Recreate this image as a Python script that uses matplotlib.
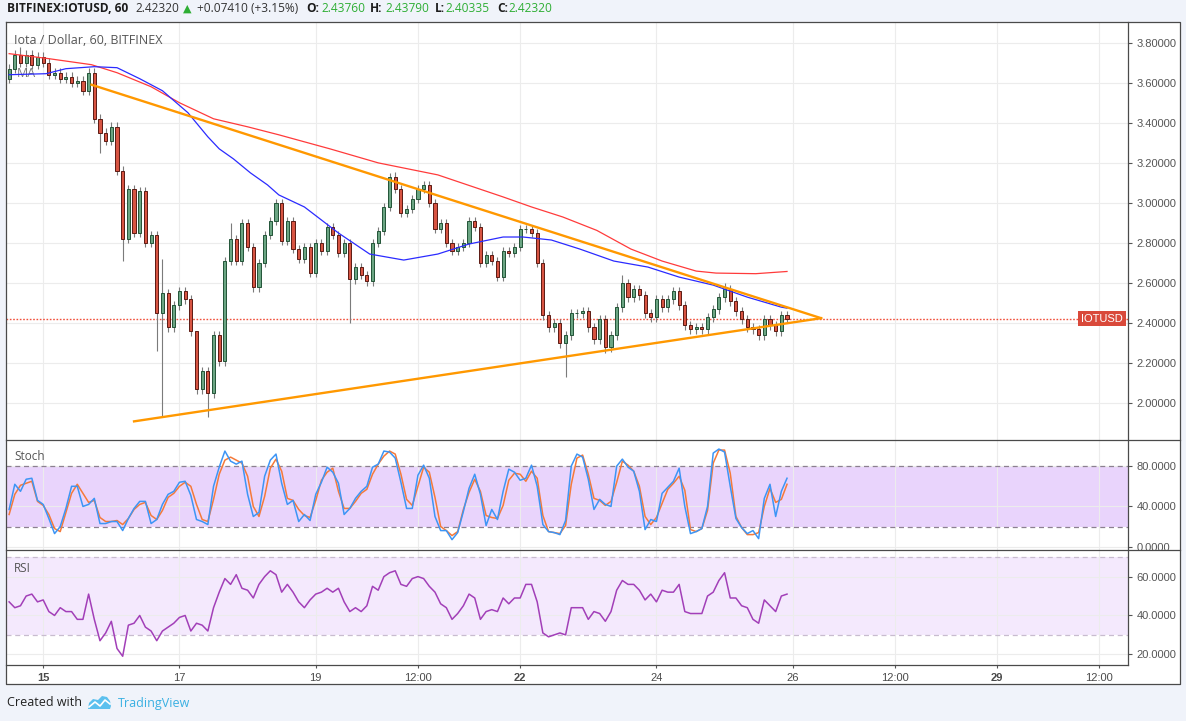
import matplotlib
matplotlib.use("Agg")
import matplotlib.pyplot as plt
from matplotlib.patches import Rectangle, Polygon
from matplotlib.transforms import blended_transform_factory
from matplotlib.ticker import FormatStrFormatter

plt.rcParams['font.family'] = ['Liberation Sans', 'DejaVu Sans']

W, H = 1186, 721

# hours counted from Jan 15 00:00, one bar every 2 hours
bar_hours = list(range(-12, 263, 2))
first_open = 3.62
closes = [
    3.67, 3.74, 3.70, 3.74, 3.69, 3.73, 3.70,
    3.64, 3.65, 3.62, 3.63, 3.60, 3.61, 3.56, 3.65,
    3.42, 3.35, 3.31, 3.38, 3.16, 2.82, 3.07, 2.85, 3.06, 2.80,
    2.84, 2.45, 2.55, 2.38, 2.49, 2.56, 2.52, 2.36, 2.07,
    2.16, 2.05, 2.34, 2.21, 2.71, 2.82, 2.71, 2.90, 2.78, 2.58,
    2.70, 2.84, 2.91, 3.00, 2.81, 2.91, 2.77, 2.72, 2.78, 2.65,
    2.80, 2.76, 2.88, 2.84, 2.75, 2.80, 2.62, 2.68, 2.64, 2.61,
    2.80, 2.86, 2.98, 3.13,
    3.07, 2.95, 2.97, 3.02, 3.07, 3.09, 3.00, 2.87, 2.90, 2.80,
    2.76, 2.78, 2.80, 2.91, 2.88, 2.70, 2.74, 2.71, 2.63, 2.76,
    2.75, 2.78, 2.87, 2.87, 2.85, 2.70, 2.44, 2.38, 2.40, 2.30,
    2.34, 2.45, 2.45, 2.46,
    2.38, 2.32, 2.42, 2.28, 2.34, 2.48, 2.60, 2.53, 2.57, 2.54,
    2.45, 2.43, 2.52, 2.48, 2.52, 2.56, 2.49, 2.39, 2.37, 2.38,
    2.37, 2.43, 2.47, 2.53, 2.57, 2.51, 2.46, 2.42, 2.38, 2.37,
    2.34, 2.42, 2.39, 2.36, 2.44, 2.4232,
]
# long shadows
wick_lows = {20: 3.25, 28: 2.71, 40: 2.26, 42: 1.93, 58: 1.93, 108: 2.40,
             184: 2.13, 198: 2.25}
wick_highs = {-8: 3.78, 42: 2.72, 54: 2.32, 66: 2.90, 122: 3.15, 134: 3.11,
              170: 2.89, 204: 2.64, 240: 2.60}

ma_fast_hours = [-12, 1, 8, 18, 26, 34, 42, 51, 58, 62, 67, 73, 79, 83, 92,
                 104, 115, 127, 139, 150, 162, 169, 179, 189, 201, 213, 224,
                 236, 248, 260, 262]
ma_fast = [3.64, 3.645, 3.67, 3.68, 3.675, 3.62, 3.56, 3.45, 3.33, 3.27, 3.22,
           3.15, 3.09, 3.04, 2.98, 2.85, 2.745, 2.715, 2.745, 2.795, 2.83, 2.83,
           2.815, 2.77, 2.71, 2.68, 2.63, 2.59, 2.53, 2.48, 2.475]
ma_slow_hours = [-12, 2, 17, 26, 38, 48, 60, 72, 83, 101, 118, 139, 162, 172,
                 183, 195, 207, 218, 230, 237, 251, 262]
ma_slow = [3.745, 3.72, 3.69, 3.65, 3.58, 3.50, 3.42, 3.38, 3.34, 3.27, 3.20,
           3.14, 3.03, 2.98, 2.93, 2.863, 2.77, 2.71, 2.66, 2.65, 2.647, 2.658]

trend_upper_hours = [17, 274]
trend_upper = [3.59, 2.425]
trend_lower_hours = [32, 274]
trend_lower = [1.91, 2.425]

stoch_k = [
    37, 62, 55, 67, 68, 46, 42, 28, 13, 20, 38, 60, 60, 40, 42, 48, 23, 23, 25, 25,
    16, 28, 38, 45, 45, 23, 27, 42, 52, 55, 64, 65, 51, 27,
    25, 22, 60, 79, 95, 85, 82, 85, 52, 30, 34, 70, 86, 92, 63, 42, 46, 25, 32, 26,
    52, 64, 79, 74, 63, 32, 38, 48, 55, 60, 79, 82, 95, 94,
    88, 64, 38, 38, 71, 81, 68, 30, 16, 16, 7, 14, 35, 58, 72, 52, 21, 37, 27, 55,
    77, 74, 66, 68, 81, 60, 22, 15, 14, 12, 26, 80, 92, 89,
    67, 37, 47, 42, 40, 80, 87, 79, 75, 55, 17, 27, 25, 53, 59, 65, 78, 40, 13, 15,
    18, 40, 93, 97, 94, 60, 28, 19, 13, 16, 8, 48, 62, 30, 55, 68,
]
stoch_d = [
    32, 52, 61, 63, 65, 45, 41, 32, 18, 15, 34, 53, 62, 53, 44, 46, 29, 25, 25, 26,
    22, 28, 37, 42, 44, 31, 27, 36, 49, 53, 60, 64, 60, 42,
    27, 25, 47, 72, 86, 89, 86, 83, 70, 40, 30, 50, 78, 87, 75, 48, 46, 37, 31, 29,
    46, 66, 74, 78, 55, 38, 38, 45, 53, 57, 72, 82, 90, 95,
    92, 72, 47, 41, 60, 79, 74, 49, 20, 16, 11, 15, 37, 54, 67, 55, 31, 29, 28, 41,
    66, 73, 72, 65, 75, 68, 31, 15, 14, 13, 21, 62, 88, 91,
    72, 48, 46, 41, 45, 64, 85, 81, 75, 60, 30, 22, 29, 43, 57, 63, 70, 56, 17, 15,
    18, 36, 83, 96, 96, 73, 30, 19, 12, 12, 14, 40, 58, 44, 47, 62,
]
rsi = [
    47, 44, 45, 50, 51, 47, 48, 42, 40, 44, 42, 42, 38, 38, 51, 38, 27, 31, 37, 23,
    19, 35, 36, 40, 34, 32, 27, 32, 34, 36, 39, 40, 32, 36,
    35, 32, 44, 52, 59, 56, 61, 54, 53, 49, 56, 60, 63, 61, 52, 56, 52, 47, 44, 48,
    51, 52, 54, 52, 54, 47, 42, 44, 42, 45, 55, 53, 60, 62,
    63, 56, 55, 59, 60, 59, 55, 52, 46, 44, 38, 41, 45, 51, 49, 38, 42, 43, 42, 49,
    46, 49, 49, 56, 56, 47, 31, 29, 30, 31, 30, 44, 44, 44,
    38, 42, 41, 37, 42, 53, 58, 56, 56, 53, 48, 51, 47, 53, 52, 52, 56, 42, 41, 41,
    41, 50, 52, 58, 62, 49, 49, 45, 44, 38, 36, 48, 45, 42, 50, 51,
]

price_ticks = [2.0, 2.2, 2.4, 2.6, 2.8, 3.0, 3.2, 3.4, 3.6, 3.8]
stoch_ticks = [0, 40, 80]
rsi_ticks = [20, 40, 60]
time_ticks = [0, 48, 96, 132, 168, 216, 264, 300, 336, 372]
time_labels = ["15", "17", "19", "12:00", "22", "24", "26", "12:00", "29", "12:00"]
bold_labels = ["15", "22", "29"]
last_price = 2.4232

UP, DOWN = '#6ba583', '#d75442'
UP_EDGE, DOWN_EDGE = '#225437', '#5b1a13'
WICK = 0.022


def rect(x0, y0, x1, y1):
    return [x0 / W, 1 - y1 / H, (x1 - x0) / W, (y1 - y0) / H]


fig = plt.figure(figsize=(W / 100, H / 100), dpi=100, facecolor='#f0f3fa')
fig.add_artist(Rectangle((6 / W, 1 - 684 / H), (1180 - 6) / W, (684 - 22) / H,
                         transform=fig.transFigure, facecolor='white',
                         edgecolor='none', zorder=-5))

ax = fig.add_axes(rect(6, 22, 1128, 440))
ax_st = fig.add_axes(rect(6, 440, 1128, 550))
ax_rsi = fig.add_axes(rect(6, 550, 1128, 665))

for a in (ax, ax_st, ax_rsi):
    a.set_xlim(-13.1, 382.1)
    for s in a.spines.values():
        s.set_visible(False)
    a.set_xticks(time_ticks)
    a.grid(True, color='#ececec', lw=0.8)
    a.set_axisbelow(True)
    a.yaxis.tick_right()
    a.tick_params(axis='y', length=3, width=0.8, color='#555555',
                  labelcolor='#555555', labelsize=8, pad=3)
    a.tick_params(axis='x', length=0, labelbottom=False)

# --- price panel ---
ax.set_ylim(1.817, 3.903)
ax.set_yticks(price_ticks)
ax.yaxis.set_major_formatter(FormatStrFormatter('%.5f'))

opens = [first_open] + closes[:-1]
for h, o, c in zip(bar_hours, opens, closes):
    hi = wick_highs.get(h, max(o, c) + WICK)
    lo = wick_lows.get(h, min(o, c) - WICK)
    ax.vlines(h, lo, hi, color='#7b7b7b', lw=0.8, zorder=3)
bodies = [c - o for o, c in zip(opens, closes)]
ax.bar(bar_hours, bodies, bottom=opens, width=1.1,
       color=[UP if b >= 0 else DOWN for b in bodies],
       edgecolor=[UP_EDGE if b >= 0 else DOWN_EDGE for b in bodies],
       lw=0.7, zorder=4)

ax.plot(ma_slow_hours, ma_slow, color='#ff3b3b', lw=0.9, zorder=5)
ax.plot(ma_fast_hours, ma_fast, color='#2b2bff', lw=0.9, zorder=5)
ax.plot(trend_upper_hours, trend_upper, color='#ff9800', lw=1.7, zorder=6)
ax.plot(trend_lower_hours, trend_lower, color='#ff9800', lw=1.7, zorder=6)
ax.axhline(last_price, color='#f0503c', ls=(0, (1.2, 1.2)), lw=1.0, zorder=2)
ax.text(0.0098, 0.876, 'MA', transform=ax.transAxes, color='#777777',
        fontsize=9, family='Open Sans', va='center', zorder=1)
ax.text(0.9955, last_price, 'IOTUSD',
        transform=blended_transform_factory(ax.transAxes, ax.transData),
        ha='right', va='center', color='white', fontsize=8, zorder=8,
        bbox=dict(boxstyle='square,pad=0.25', fc='#d9493a', ec='none'))

# --- stochastic panel ---
ax_st.set_ylim(-3.3, 106)
ax_st.set_yticks(stoch_ticks)
ax_st.yaxis.set_major_formatter(FormatStrFormatter('%.4f'))
ax_st.axhspan(20, 80, color='#e9d4fc', lw=0, zorder=0.5)
for lvl in (20, 80):
    ax_st.axhline(lvl, color='#8c8090', ls=(0, (4, 3)), lw=0.9, zorder=1)
ax_st.plot(bar_hours, stoch_d, color='#f57a3a', lw=1.1, zorder=3)
ax_st.plot(bar_hours, stoch_k, color='#3d95f5', lw=1.1, zorder=4)

# --- RSI panel ---
ax_rsi.set_ylim(14.5, 73.7)
ax_rsi.set_yticks(rsi_ticks)
ax_rsi.yaxis.set_major_formatter(FormatStrFormatter('%.4f'))
ax_rsi.axhspan(30, 70, color='#f4e9fd', lw=0, zorder=0.5)
for lvl in (30, 70):
    ax_rsi.axhline(lvl, color='#c8bccf', ls=(0, (4, 3)), lw=0.9, zorder=1)
ax_rsi.plot(bar_hours, rsi, color='#a23fb8', lw=1.1, zorder=3)
ax_rsi.set_xticklabels(time_labels)
ax_rsi.tick_params(axis='x', labelbottom=True, length=2, width=0.8,
                   color='#555555', labelcolor='#4a4a4a', labelsize=8, pad=4)
for lbl in ax_rsi.get_xticklabels():
    if lbl.get_text() in bold_labels:
        lbl.set_fontweight('bold')

# --- frame, header and footer in pixel coordinates ---
ov = fig.add_axes([0, 0, 1, 1], zorder=10)
ov.set_xlim(0, W)
ov.set_ylim(H, 0)
ov.axis('off')
frame = dict(color='#4a4a4a', lw=0.9)
ov.plot([6, 1180, 1180, 6, 6], [22, 22, 684, 684, 22], **frame)
ov.plot([1128, 1128], [22, 665], **frame)
ov.plot([6, 1180], [440, 440], **frame)
ov.plot([6, 1180], [550, 550], **frame)
ov.plot([6, 1128], [665, 665], **frame)

hdr = dict(fontsize=8.6, va='center', family=['Open Sans', 'DejaVu Sans'])
green = '#2eae34'
ov.text(7, 9, 'BITFINEX:IOTUSD, 60', color='#1c1c1c', fontweight='bold', **hdr)
ov.text(135, 9, '2.42320', color='#333333', **hdr)
ov.text(183, 9, '▲', color=green, fontsize=8, va='center', family='DejaVu Sans')
ov.text(197, 9, '+0.07410 (+3.15%)', color='#333333', **hdr)
for x, key, xv, val in [(306, 'O:', 321, '2.43760'), (370, 'H:', 385, '2.43790'),
                        (435, 'L:', 445, '2.40335'), (497, 'C:', 508, '2.42320')]:
    ov.text(x, 9, key, color='#1c1c1c', fontweight='bold', **hdr)
    ov.text(xv, 9, val, color=green, **hdr)

lbl = dict(color='#555555', va='center', family='Open Sans')
ov.text(14, 40, 'Iota / Dollar, 60, BITFINEX', fontsize=9, **lbl)
ov.text(14, 457, 'Stoch', fontsize=8.5, **lbl)
ov.text(14, 568, 'RSI', fontsize=8.5, **lbl)

ov.text(7, 703, 'Created with', color='#222222', fontsize=9, va='center',
        family='Open Sans')
ov.add_patch(Polygon([(88, 709), (89, 703), (93, 699), (98, 700), (102, 696),
                      (107, 697), (110, 701), (111, 706), (110, 709)],
                     closed=True, fc='#5cc0ee', ec='none'))
ov.plot([89, 95, 100, 105, 110], [707, 702, 706, 700, 704], color='white', lw=1.2)
ov.text(118, 703, 'TradingView', color='#3ab0e2', fontsize=9, va='center',
        family='Open Sans')

fig.savefig('out.png', dpi=100, facecolor=fig.get_facecolor())
